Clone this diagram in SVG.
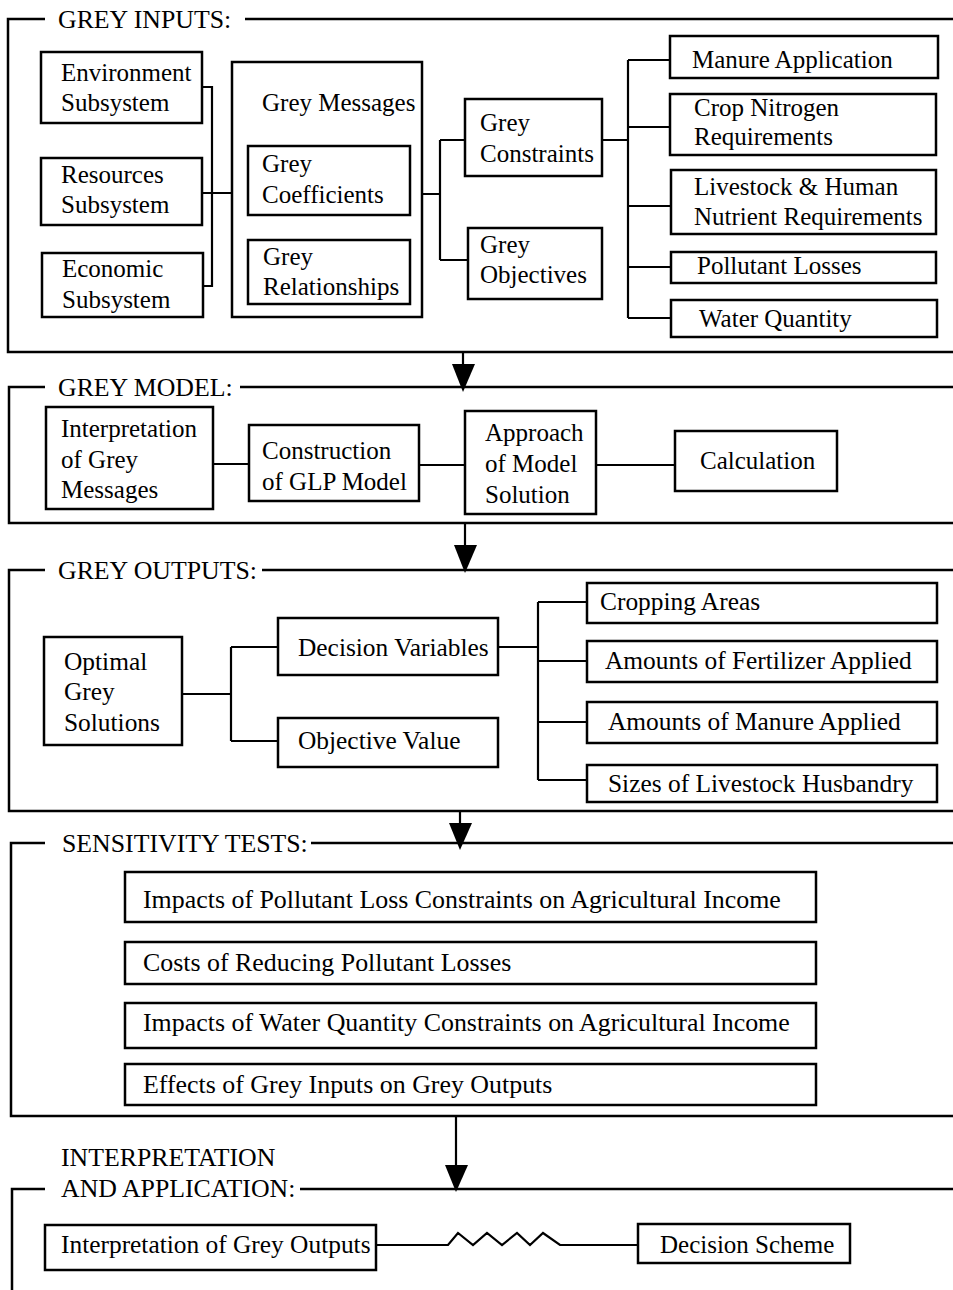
<svg xmlns="http://www.w3.org/2000/svg" width="953" height="1290" viewBox="0 0 953 1290">
<style>
text{font-family:"Liberation Serif","Times New Roman",serif;font-size:25px;fill:#000}
text.lab{font-size:25.8px}
text.w{font-size:25.4px}
text.s{font-size:25.9px}
.box{fill:#fff;stroke:#000;stroke-width:2.5}
.frame{fill:none;stroke:#000;stroke-width:2.5}
.conn{fill:none;stroke:#000;stroke-width:2.2}
.arrow{fill:#000;stroke:none}
</style>
<rect width="953" height="1290" fill="#fff"/>
<g id="frames">
<path class="frame" d="M45,19 H8 V352 H953 M245,19 H953"/>
<path class="frame" d="M45,387 H9 V523 H953 M240,387 H953"/>
<path class="frame" d="M45,570 H9 V811 H953 M262,570 H953"/>
<path class="frame" d="M45,843 H11 V1116 H953 M311,843 H953"/>
<path class="frame" d="M45,1189 H12 V1290 M300,1189 H953"/>
<text class="lab" x="58" y="28">GREY INPUTS:</text>
<text class="lab" x="58" y="396">GREY MODEL:</text>
<text class="lab" x="58" y="579">GREY OUTPUTS:</text>
<text class="lab" x="62" y="852">SENSITIVITY TESTS:</text>
<text class="lab" x="61" y="1166">INTERPRETATION</text>
<text class="lab" x="61" y="1197">AND APPLICATION:</text>
</g>
<g id="connectors">
<path class="conn" d="M202,87 H212 V286 H203 M202,193 H232"/>
<path class="conn" d="M423,194 H440 M440,140 V260 M440,140 H465 M440,260 H468"/>
<path class="conn" d="M602,140 H628 M628,60 V318 M628,60 H670 M628,127 H670 M628,206 H670 M628,267 H670 M628,318 H670"/>
<path class="conn" d="M213,464 H249 M419,465 H465 M596,465 H675"/>
<path class="conn" d="M182,694 H231 M231,647 V741 M231,647 H278 M231,741 H278 M498,647 H538 M538,602 V780 M538,602 H587 M538,661 H587 M538,722 H587 M538,780 H587"/>
<path class="conn" d="M376,1245 H448 L458,1233 L473,1245 L487,1233 L502,1245 L517,1233 L530,1245 L543,1233 L560,1245 H638"/>
<path class="conn" d="M463,352 V366 M465,523 V547 M460,811 V825 M456,1115 V1167"/>
<path class="arrow" d="M452,364 H475 L463,392 Z"/>
<path class="arrow" d="M454,545 H477 L465,573 Z"/>
<path class="arrow" d="M449,823 H472 L460,850 Z"/>
<path class="arrow" d="M445,1165 H468 L456,1192 Z"/>
</g>
<g id="env"><rect class="box" x="41" y="52" width="161" height="71"/><text x="61" y="81">Environment</text><text x="61" y="111">Subsystem</text></g>
<g id="res"><rect class="box" x="41" y="158" width="161" height="67"/><text x="61" y="183">Resources</text><text x="61" y="213">Subsystem</text></g>
<g id="eco"><rect class="box" x="42" y="253" width="161" height="64"/><text x="62" y="277">Economic</text><text x="62" y="308">Subsystem</text></g>
<g id="msg"><rect class="box" x="232" y="62" width="190" height="255"/><text x="262" y="111">Grey Messages</text></g>
<g id="coef"><rect class="box" x="248" y="146" width="162" height="69"/><text x="262" y="172">Grey</text><text x="262" y="203">Coefficients</text></g>
<g id="rel"><rect class="box" x="248" y="240" width="162" height="64"/><text x="263" y="265">Grey</text><text x="263" y="295">Relationships</text></g>
<g id="cons"><rect class="box" x="465" y="99" width="137" height="77"/><text x="480" y="131">Grey</text><text x="480" y="162">Constraints</text></g>
<g id="obj"><rect class="box" x="468" y="228" width="134" height="71"/><text x="480" y="253">Grey</text><text x="480" y="283">Objectives</text></g>
<g id="manure"><rect class="box" x="670" y="36" width="268" height="42"/><text x="692" y="68">Manure Application</text></g>
<g id="crop"><rect class="box" x="670" y="94" width="266" height="61"/><text x="694" y="116">Crop Nitrogen</text><text x="694" y="145">Requirements</text></g>
<g id="live"><rect class="box" x="671" y="170" width="265" height="64"/><text x="694" y="195">Livestock &amp; Human</text><text x="694" y="225">Nutrient Requirements</text></g>
<g id="poll"><rect class="box" x="671" y="252" width="265" height="31"/><text x="697" y="274">Pollutant Losses</text></g>
<g id="water"><rect class="box" x="671" y="300" width="266" height="37"/><text x="699" y="327">Water Quantity</text></g>
<g id="interp"><rect class="box" x="46" y="407" width="167" height="102"/><text x="61" y="437">Interpretation</text><text x="61" y="468">of Grey</text><text x="61" y="498">Messages</text></g>
<g id="constr"><rect class="box" x="249" y="425" width="170" height="76"/><text x="262" y="459">Construction</text><text x="262" y="490">of GLP Model</text></g>
<g id="approach"><rect class="box" x="465" y="411" width="131" height="103"/><text x="485" y="441">Approach</text><text x="485" y="472">of Model</text><text x="485" y="503">Solution</text></g>
<g id="calc"><rect class="box" x="675" y="431" width="162" height="60"/><text x="700" y="469">Calculation</text></g>
<g id="optimal"><rect class="box" x="44" y="637" width="138" height="108"/><text class="w" x="64" y="670">Optimal</text><text class="w" x="64" y="700">Grey</text><text class="w" x="64" y="731">Solutions</text></g>
<g id="decvar"><rect class="box" x="278" y="618" width="220" height="57"/><text class="w" x="298" y="656">Decision Variables</text></g>
<g id="objval"><rect class="box" x="278" y="718" width="220" height="49"/><text class="w" x="298" y="749">Objective Value</text></g>
<g id="cropping"><rect class="box" x="587" y="583" width="350" height="40"/><text class="w" x="600" y="610">Cropping Areas</text></g>
<g id="fert"><rect class="box" x="587" y="641" width="350" height="41"/><text class="w" x="605" y="669">Amounts of Fertilizer Applied</text></g>
<g id="manapp"><rect class="box" x="587" y="702" width="350" height="41"/><text class="w" x="608" y="730">Amounts of Manure Applied</text></g>
<g id="sizes"><rect class="box" x="587" y="765" width="350" height="37"/><text class="w" x="608" y="792">Sizes of Livestock Husbandry</text></g>
<g id="s1"><rect class="box" x="125" y="872" width="691" height="50"/><text class="s" x="143" y="908">Impacts of Pollutant Loss Constraints on Agricultural Income</text></g>
<g id="s2"><rect class="box" x="125" y="942" width="691" height="42"/><text class="s" x="143" y="971">Costs of Reducing Pollutant Losses</text></g>
<g id="s3"><rect class="box" x="125" y="1003" width="691" height="45"/><text class="s" x="143" y="1031">Impacts of Water Quantity Constraints on Agricultural Income</text></g>
<g id="s4"><rect class="box" x="125" y="1064" width="691" height="41"/><text class="s" x="143" y="1093">Effects of Grey Inputs on Grey Outputs</text></g>
<g id="igo"><rect class="box" x="45" y="1225" width="331" height="45"/><text class="w" x="61" y="1253">Interpretation of Grey Outputs</text></g>
<g id="scheme"><rect class="box" x="638" y="1224" width="212" height="39"/><text x="660" y="1253">Decision Scheme</text></g>
</svg>
